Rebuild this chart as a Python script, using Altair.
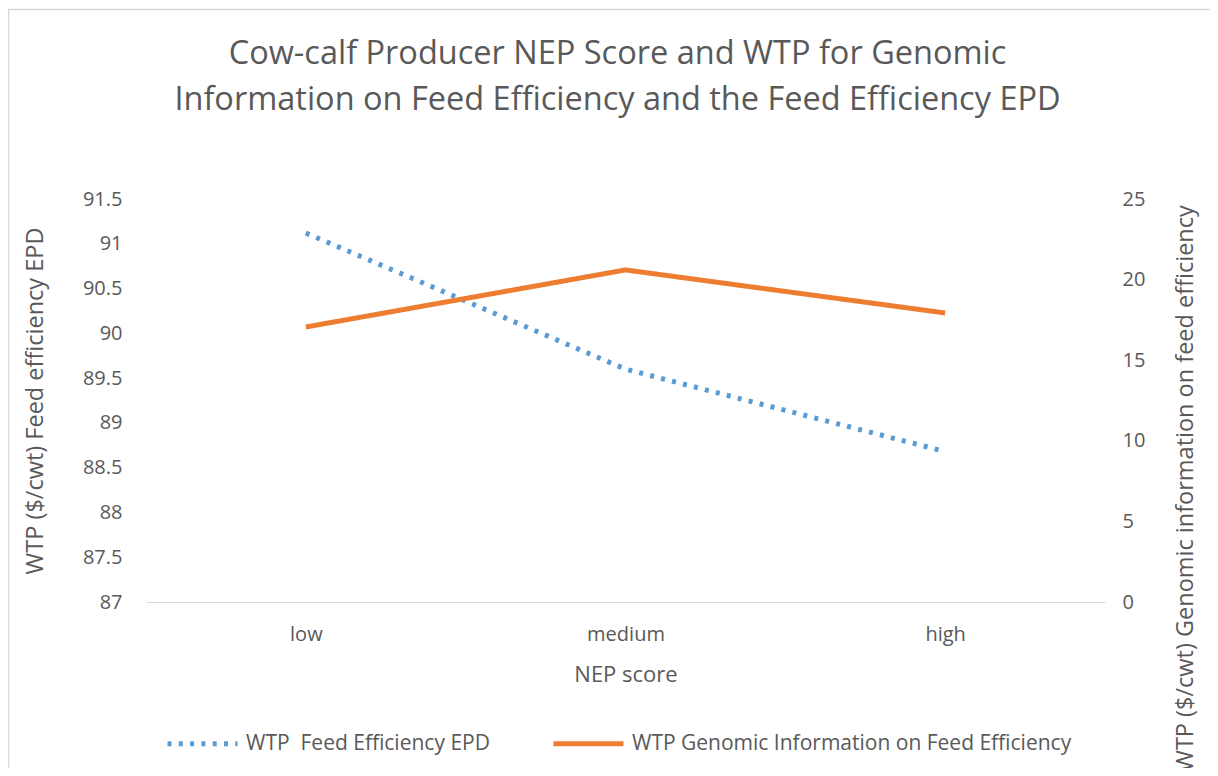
import altair as alt
import pandas as pd

categories = ["low", "medium", "high"]
epd_values = [91.12, 89.60, 88.68]          # left axis
genomic_values = [17.06, 20.6, 17.93]       # right axis
series_names = ["WTP \u00a0Feed Efficiency EPD", "WTP Genomic Information on Feed Efficiency"]
series_colors = ["#5B9BD5", "#ED7D31"]
left_ticks = [87, 87.5, 88, 88.5, 89, 89.5, 90, 90.5, 91, 91.5]
right_ticks = [0, 5, 10, 15, 20, 25]
chart_title = ["Cow-calf Producer NEP Score and WTP for Genomic",
               "Information on Feed Efficiency and the Feed Efficiency EPD"]

FONT = "Open Sans"
TXT = "#595959"

df_epd = pd.DataFrame({"NEP": categories, "value": epd_values, "series": series_names[0]})
df_gen = pd.DataFrame({"NEP": categories, "value": genomic_values, "series": series_names[1]})

x_enc = alt.X("NEP:N", sort=categories, scale=alt.Scale(type="point", padding=0.5),
              axis=alt.Axis(title="NEP score", domain=True, domainColor="#d9d9d9", domainWidth=1,
                            ticks=False, tickSize=0, labelAngle=0, labelBaseline="alphabetic",
                            labelPadding=38, titleBaseline="alphabetic", titleY=79, titleX=479.5,
                            titleAlign="center", titleFontSize=22))

legend = alt.Legend(orient="none", legendX=19, legendY=507, direction="horizontal",
                    title=None, symbolType="stroke", symbolSize=4900,
                    symbolStrokeWidth=5, labelFontSize=21, labelColor=TXT,
                    labelFont=FONT, columnPadding=53, labelLimit=800, labelOffset=6)

color_enc = alt.Color("series:N", scale=alt.Scale(domain=series_names, range=series_colors),
                      legend=legend)
dash_enc = alt.StrokeDash("series:N", scale=alt.Scale(domain=series_names, range=[[4, 7.3], [1, 0]]),
                          legend=legend)

border = alt.Chart(alt.Data(values=[{}])).mark_rect(filled=False, stroke="#d9d9d9", strokeWidth=1.5).encode(
    x=alt.value(-137.5), x2=alt.value(1200), y=alt.value(-189.5), y2=alt.value(800))

epd_line = alt.Chart(df_epd).mark_line(strokeWidth=5).encode(
    x=x_enc,
    y=alt.Y("value:Q", scale=alt.Scale(domain=[87, 91.5], nice=False, zero=False),
            axis=alt.Axis(orient="left", values=left_ticks, format="~f",
                          title="WTP ($/cwt) Feed efficiency EPD",
                          domain=False, ticks=False, tickSize=0, grid=False, labelPadding=24,
                          titleAngle=270, titleX=-111, titleY=201.5, titleAlign="center",
                          titleBaseline="middle", titleFontSize=23.5)),
    color=color_enc, strokeDash=dash_enc)

gen_line = alt.Chart(df_gen).mark_line(strokeWidth=5).encode(
    x=x_enc,
    y=alt.Y("value:Q", scale=alt.Scale(domain=[0, 25], nice=False),
            axis=alt.Axis(orient="right", values=right_ticks,
                          title="WTP ($/cwt) Genomic information on feed efficiency",
                          domain=False, ticks=False, tickSize=0, grid=False, labelPadding=17,
                          titleAngle=270, titleX=80, titleY=289, titleAlign="center",
                          titleBaseline="middle", titleFontSize=23.5)),
    color=color_enc, strokeDash=dash_enc)

chart = alt.layer(border, epd_line, gen_line).resolve_scale(y="independent").properties(
    width=959, height=403,
    autosize=alt.AutoSizeParams(type="none"),
    padding={"left": 138, "top": 191, "right": 105, "bottom": 166},
    title=alt.TitleParams(chart_title, anchor="middle", frame="group", fontSize=32.5, font=FONT,
                          color=TXT, fontWeight="normal", lineHeight=46, offset=-107.5, dx=-8),
).configure_view(stroke=None).configure_axis(
    labelFont=FONT, labelFontSize=20, labelColor=TXT, titleFont=FONT,
    titleColor=TXT, titleFontWeight="normal", grid=False)

chart.save("out.html", embed_options={"renderer": "svg", "actions": False})
